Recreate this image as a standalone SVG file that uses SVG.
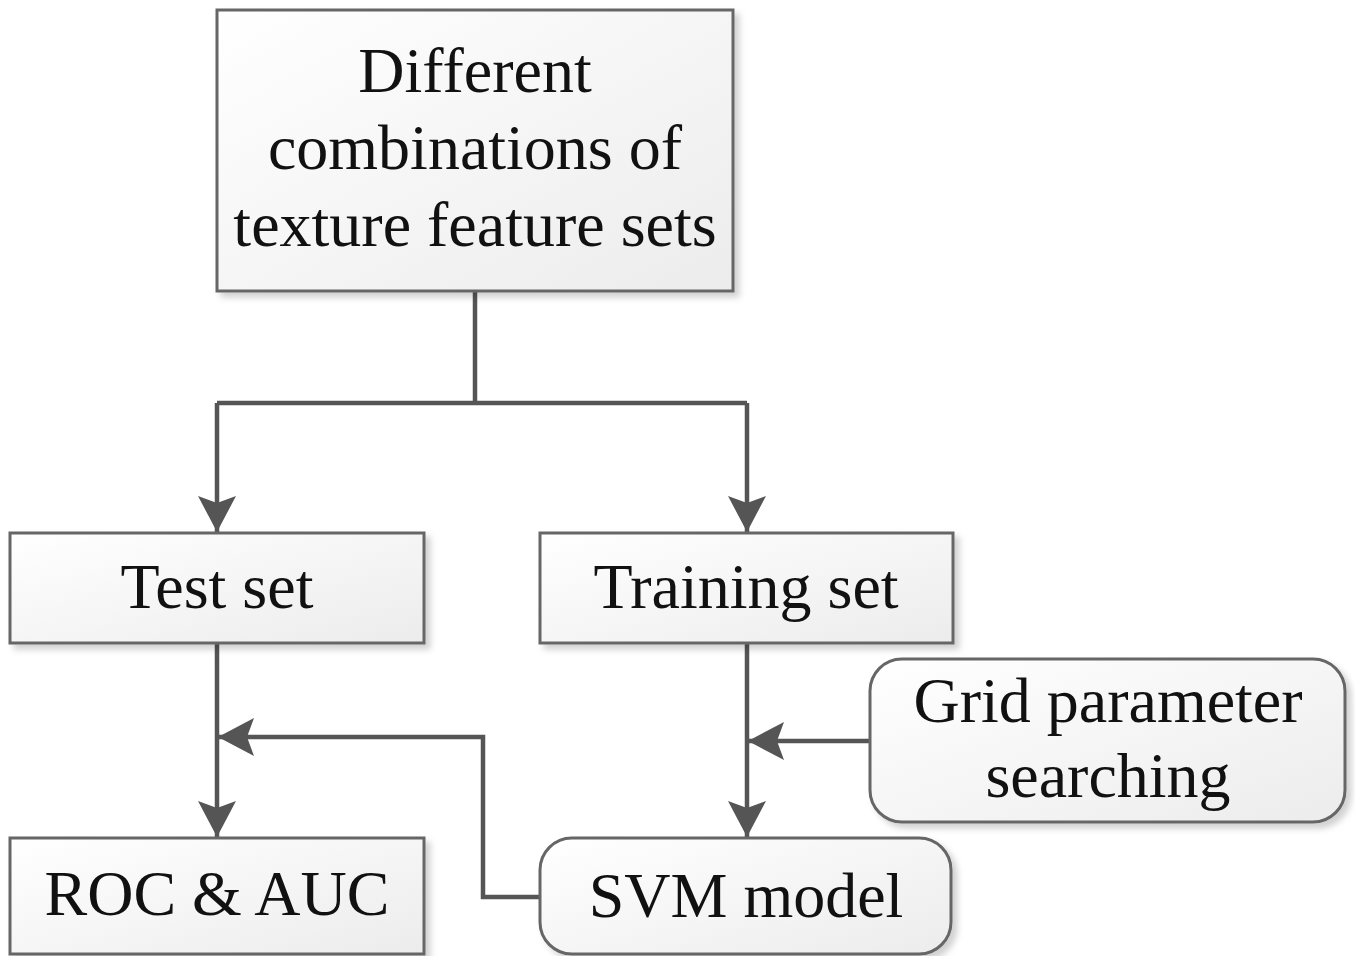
<svg xmlns="http://www.w3.org/2000/svg" width="1355" height="956" viewBox="0 0 1355 956">
  <defs>
    <linearGradient id="boxFill" x1="0" y1="0" x2="1" y2="1">
      <stop offset="0" stop-color="#ffffff"/>
      <stop offset="1" stop-color="#ececec"/>
    </linearGradient>
    <filter id="shadow" x="-5%" y="-5%" width="115%" height="120%">
      <feDropShadow dx="5" dy="5" stdDeviation="3" flood-color="#000" flood-opacity="0.18"/>
    </filter>
    <marker id="arrow" viewBox="0 0 36 38" refX="36" refY="19" markerWidth="36" markerHeight="38" markerUnits="userSpaceOnUse" orient="auto">
      <path d="M0,0 L36,19 L0,38 L7,19 Z" fill="#555555"/>
    </marker>
    <style>
      .box { fill: url(#boxFill); stroke: #666666; stroke-width: 3; filter: url(#shadow); }
      .label { font-family: "Liberation Serif", "Times New Roman", serif; font-size: 64px; fill: #111111; text-anchor: middle; }
      .conn { fill: none; stroke: #555555; stroke-width: 4.5; }
    </style>
  </defs>

  <rect width="1355" height="956" fill="#ffffff"/>

  <!-- connectors -->
  <g id="connectors">
    <path class="conn" d="M475,291 V403"/>
    <path class="conn" d="M217,403 H747"/>
    <path class="conn" d="M217,403 V532" marker-end="url(#arrow)"/>
    <path class="conn" d="M747,403 V532" marker-end="url(#arrow)"/>
    <path class="conn" d="M217,643 V837" marker-end="url(#arrow)"/>
    <path class="conn" d="M747,643 V837" marker-end="url(#arrow)"/>
    <path class="conn" d="M870,741 H748" marker-end="url(#arrow)"/>
    <path class="conn" d="M540,897 H483 V737 H218" marker-end="url(#arrow)"/>
  </g>

  <!-- nodes -->
  <g id="node-combinations">
    <rect class="box" x="217" y="10" width="516" height="281"/>
    <text class="label" x="475" y="92">Different</text>
    <text class="label" x="475" y="169">combinations of</text>
    <text class="label" x="475" y="246">texture feature sets</text>
  </g>

  <g id="node-test-set">
    <rect class="box" x="10" y="533" width="414" height="110"/>
    <text class="label" x="217" y="608">Test set</text>
  </g>

  <g id="node-training-set">
    <rect class="box" x="540" y="533" width="413" height="110"/>
    <text class="label" x="746" y="608">Training set</text>
  </g>

  <g id="node-grid-search">
    <rect class="box" x="870" y="659" width="475" height="163" rx="32" ry="32"/>
    <text class="label" x="1108" y="722">Grid parameter</text>
    <text class="label" x="1108" y="797">searching</text>
  </g>

  <g id="node-roc-auc">
    <rect class="box" x="10" y="838" width="414" height="116"/>
    <text class="label" x="217" y="915">ROC &amp; AUC</text>
  </g>

  <g id="node-svm">
    <rect class="box" x="540" y="838" width="411" height="116" rx="32" ry="32"/>
    <text class="label" x="746" y="917">SVM model</text>
  </g>
</svg>
